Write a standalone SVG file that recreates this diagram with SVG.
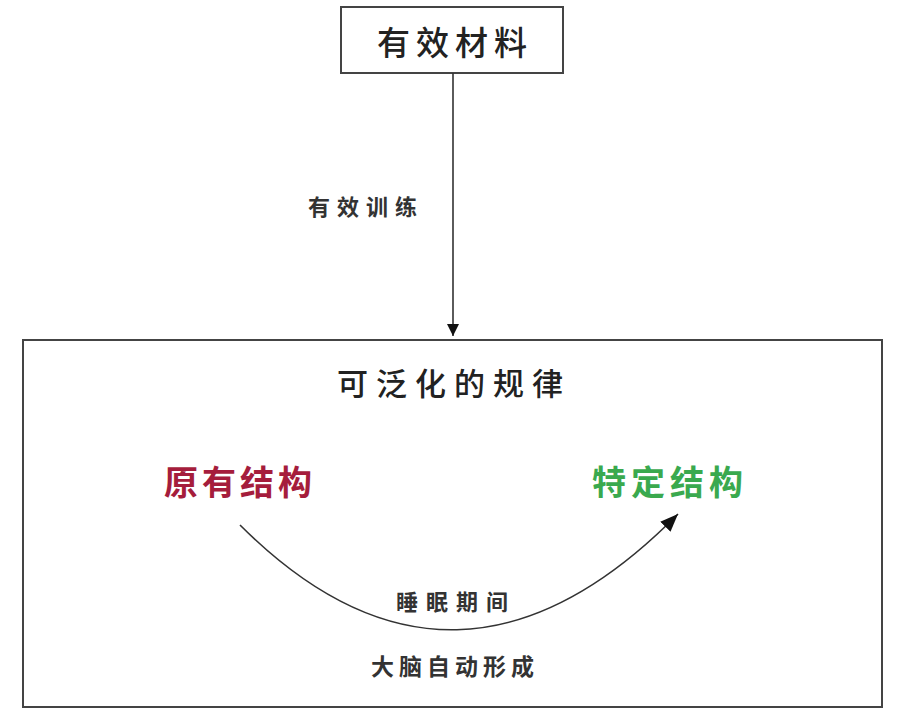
<svg xmlns="http://www.w3.org/2000/svg" width="904" height="720" viewBox="0 0 904 720">
<style>
.box{fill:#fff;stroke:#444;stroke-width:2}
.t{font-family:"Noto Sans CJK SC","Noto Sans CJK JP",sans-serif;text-anchor:middle;dominant-baseline:central;fill:#222}
.edge{fill:none;stroke:#333;stroke-width:1.6}
</style>
<defs>
<marker id="ah" viewBox="0 0 10 10" refX="10" refY="5" markerWidth="12" markerHeight="12" markerUnits="userSpaceOnUse" orient="auto">
<path d="M0,0 L10,5 L0,10 z" fill="#111"/>
</marker>
<marker id="ah2" viewBox="0 0 10 10" refX="10" refY="5" markerWidth="18" markerHeight="18" markerUnits="userSpaceOnUse" orient="auto">
<path d="M0,1 L10,5 L0,9 z" fill="#111"/>
</marker>
</defs>
<rect width="904" height="720" fill="#fff"/>
<g id="material">
<rect class="box" x="341" y="7" width="222" height="66"/>
<text class="t" x="455" y="41" font-size="33" font-weight="500" letter-spacing="6">有效材料</text>
</g>
<g id="rule">
<rect class="box" x="23" y="340" width="859" height="367"/>
<text class="t" x="454" y="381" font-size="31" font-weight="500" letter-spacing="8">可泛化的规律</text>
</g>
<g id="orig">
<text class="t" x="240" y="480" font-size="34" font-weight="bold" style="fill:#a51d3c" letter-spacing="4">原有结构</text>
</g>
<g id="specific">
<text class="t" x="670" y="480" font-size="34" font-weight="bold" style="fill:#3aa94e" letter-spacing="5">特定结构</text>
</g>
<g id="connectors">
<line class="edge" x1="453" y1="73" x2="453" y2="336" marker-end="url(#ah)" stroke-width="1.4"/>
<text class="t" x="366" y="205" font-size="22" font-weight="bold" letter-spacing="7" style="fill:#333">有效训练</text>
<path class="edge" d="M240,525 Q455,740 678,514" marker-end="url(#ah2)"/>
<text class="t" x="456" y="600" font-size="22" font-weight="bold" letter-spacing="8" style="fill:#333">睡眠期间</text>
<text class="t" x="455" y="665" font-size="23" font-weight="bold" letter-spacing="5" style="fill:#333">大脑自动形成</text>
</g>
</svg>
